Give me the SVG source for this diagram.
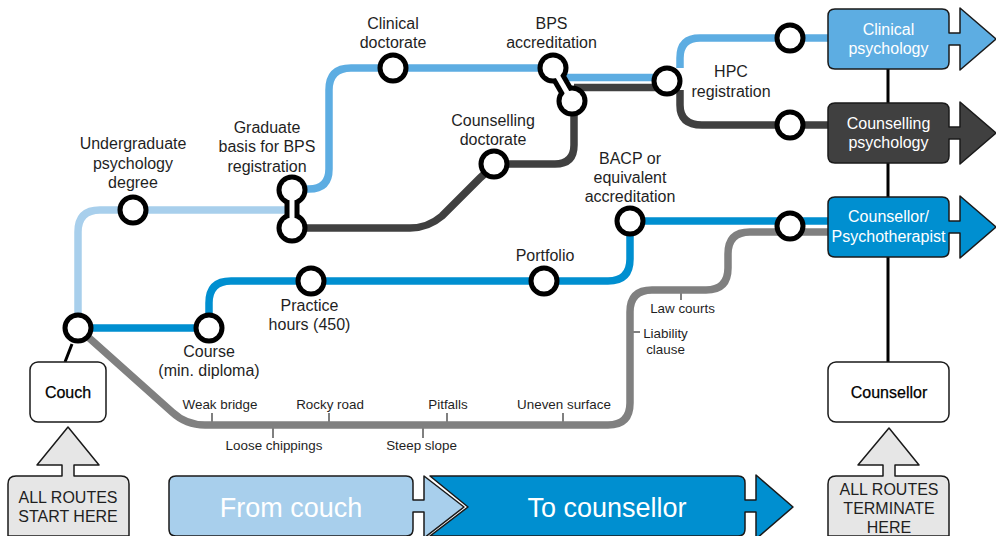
<svg xmlns="http://www.w3.org/2000/svg" width="996" height="536" viewBox="0 0 996 536">
<style>
text{font-family:"Liberation Sans",Arial,sans-serif;text-anchor:middle;fill:#1f1f1f}
.l{font-size:16px}
.s{font-size:13.4px}
.b{font-size:16px;fill:#fff}
.k{font-size:16px;fill:#000;stroke:#000;stroke-width:.25}
.g{font-size:16px}
.big{font-size:27px;fill:#fff}
.line{fill:none;stroke-width:7.5}
.tick{stroke:#808080;stroke-width:2;fill:none}
.st{fill:#fff;stroke:#000;stroke-width:5}
.bx{stroke:#1a1a1a;stroke-width:1.5;stroke-linejoin:round}
.j{stroke:#000;stroke-width:3;fill:none}
</style>
<g id="connectors">
<path class="j" d="M888 69V362M72 344L65 362"/>
<path class="line" stroke="#a8cfec" d="M78 328V232Q78 210 100 210H292"/>
<path class="line" stroke="#5dade2" d="M292 189H309Q329 189 329 169V90Q329 68 351 68H553M560 77.5H667M680 68V58Q680 38 700 38H828"/>
<path class="line" stroke="#404040" d="M292 228H410Q428 228 442 216L480 178Q494 164 510 164H555Q574 164 574 145V100M574 87.5H667M680 90V105Q680 125 702 125H828"/>
<path class="line" stroke="#008fd0" d="M78 328H209V303Q209 281 231 281H608Q630 281 630 259V221H828"/>
<path class="line" stroke="#808080" d="M78 328L172 412Q186 425 205 425H608Q630 425 630 403V312Q630 290 652 290H706Q728 290 728 268V254Q728 232 750 232H828"/>
<path class="tick" d="M212 413V425M273 425V438M329 413V425M423 425V438M447 413V425M563 413V425M681 290V300M630 332H640"/>
</g>
<g id="n-interchange-graduate">
<path d="M292 190V228" stroke="#000" stroke-width="15"/>
<circle cx="292" cy="190" r="15.5"/><circle cx="292" cy="228" r="15.5"/>
<circle cx="292" cy="190" r="10.5" fill="#fff"/><circle cx="292" cy="228" r="10.5" fill="#fff"/>
<path d="M292 190V228" stroke="#fff" stroke-width="5"/>
</g>
<g id="n-interchange-bps">
<path d="M553 68L572 101" stroke="#000" stroke-width="15"/>
<circle cx="553" cy="68" r="15.5"/><circle cx="572" cy="101" r="15.5"/>
<circle cx="553" cy="68" r="10.5" fill="#fff"/><circle cx="572" cy="101" r="10.5" fill="#fff"/>
<path d="M553 68L572 101" stroke="#fff" stroke-width="5"/>
</g>
<g id="n-start"><circle class="st" cx="78" cy="328" r="13"/></g>
<g id="n-course"><circle class="st" cx="209" cy="328" r="13"/><text class="l"><tspan x="209" y="357">Course</tspan><tspan x="209" y="376">(min. diploma)</tspan></text></g>
<g id="n-undergrad"><circle class="st" cx="133" cy="210" r="13"/><text class="l"><tspan x="133" y="149">Undergraduate</tspan><tspan x="133" y="169">psychology</tspan><tspan x="133" y="188">degree</tspan></text></g>
<g id="n-graduate"><text class="l"><tspan x="267" y="133">Graduate</tspan><tspan x="267" y="152">basis for BPS</tspan><tspan x="267" y="172">registration</tspan></text></g>
<g id="n-clinical-doc"><circle class="st" cx="393" cy="68" r="13"/><text class="l"><tspan x="393" y="29">Clinical</tspan><tspan x="393" y="48">doctorate</tspan></text></g>
<g id="n-bps"><text class="l"><tspan x="551.5" y="29">BPS</tspan><tspan x="551.5" y="48">accreditation</tspan></text></g>
<g id="n-counselling-doc"><circle class="st" cx="494" cy="164" r="13"/><text class="l"><tspan x="493" y="126">Counselling</tspan><tspan x="493" y="145">doctorate</tspan></text></g>
<g id="n-hpc"><circle class="st" cx="667" cy="81" r="13"/><text class="l"><tspan x="731" y="77">HPC</tspan><tspan x="731" y="97">registration</tspan></text></g>
<g id="n-practice"><circle class="st" cx="311" cy="281" r="13"/><text class="l"><tspan x="309.5" y="311">Practice</tspan><tspan x="309.5" y="330">hours (450)</tspan></text></g>
<g id="n-portfolio"><circle class="st" cx="544" cy="281" r="13"/><text class="l" x="545" y="261">Portfolio</text></g>
<g id="n-bacp"><circle class="st" cx="630" cy="221" r="13"/><text class="l"><tspan x="630" y="164">BACP or</tspan><tspan x="630" y="183">equivalent</tspan><tspan x="630" y="202">accreditation</tspan></text></g>
<g id="n-hazards"><text class="s" x="220" y="409">Weak bridge</text><text class="s" x="274" y="450">Loose chippings</text><text class="s" x="330" y="409">Rocky road</text><text class="s" x="421.5" y="450">Steep slope</text><text class="s" x="448" y="409">Pitfalls</text><text class="s" x="564" y="409">Uneven surface</text><text class="s" x="682.5" y="313">Law courts</text><text class="s"><tspan x="665.5" y="338">Liability</tspan><tspan x="665.5" y="354">clause</tspan></text></g>
<g id="n-st-clinical"><circle class="st" cx="790" cy="38" r="13"/></g>
<g id="n-st-counselling"><circle class="st" cx="790" cy="125" r="13"/></g>
<g id="n-st-counsellor"><circle class="st" cx="790" cy="226" r="13"/></g>
<g id="n-clinical-psych">
<path class="bx" fill="#5dade2" d="M835 9H942Q949 9 949 16V33H960V8L996 39L960 70V45H949V62Q949 69 942 69H835Q828 69 828 62V16Q828 9 835 9Z"/>
<text class="b"><tspan x="888.5" y="35">Clinical</tspan><tspan x="888.5" y="54">psychology</tspan></text>
</g>
<g id="n-counselling-psych">
<path class="bx" fill="#404040" d="M835 103H942Q949 103 949 110V127H960V102L996 133L960 164V139H949V156Q949 163 942 163H835Q828 163 828 156V110Q828 103 835 103Z"/>
<text class="b"><tspan x="888.5" y="129">Counselling</tspan><tspan x="888.5" y="148">psychology</tspan></text>
</g>
<g id="n-counsellor-psych">
<path class="bx" fill="#008fd0" d="M835 197H942Q949 197 949 204V221H960V196L996 227L960 258V233H949V250Q949 257 942 257H835Q828 257 828 250V204Q828 197 835 197Z"/>
<text class="b"><tspan x="888.5" y="222">Counsellor/</tspan><tspan x="888.5" y="242">Psychotherapist</tspan></text>
</g>
<g id="n-couch"><rect class="bx" x="30" y="362" width="76" height="60" rx="8" fill="#fff"/><text class="k" x="68" y="398">Couch</text></g>
<g id="n-counsellor"><rect class="bx" x="828" y="362" width="121" height="60" rx="8" fill="#fff"/><text class="k" x="889" y="398">Counsellor</text></g>
<g id="n-start-note">
<path class="bx" fill="#e6e6e6" d="M16 476H62V465H37L68 427L99 465H74V476H121Q129 476 129 484V536H8V484Q8 476 16 476Z"/>
<text class="g"><tspan x="68" y="503">ALL ROUTES</tspan><tspan x="68" y="522">START HERE</tspan></text>
</g>
<g id="n-end-note">
<path class="bx" fill="#e6e6e6" d="M836 476H883V465H858L889 428L919 465H895V476H941Q949 476 949 484V536H828V484Q828 476 836 476Z"/>
<text class="g"><tspan x="889" y="495">ALL ROUTES</tspan><tspan x="889" y="514">TERMINATE</tspan><tspan x="889" y="533">HERE</tspan></text>
</g>
<g id="n-from">
<path class="bx" fill="#a8cfec" d="M176 476H406Q413 476 413 483V500H424V476L464 507L424 538V512H413V529Q413 536 406 536H176Q169 536 169 529V483Q169 476 176 476Z"/>
<text class="big" x="291" y="517">From couch</text>
</g>
<g id="n-to">
<path fill="#fff" d="M427 474L467 507L427 538H434L472 507L434 474Z"/>
<path class="bx" fill="#008fd0" d="M430 476H738Q745 476 745 483V500H756V475L793 507L756 539V512H745V529Q745 536 738 536H430L468 507Z"/>
<text class="big" x="607" y="517">To counsellor</text>
</g>
</svg>
